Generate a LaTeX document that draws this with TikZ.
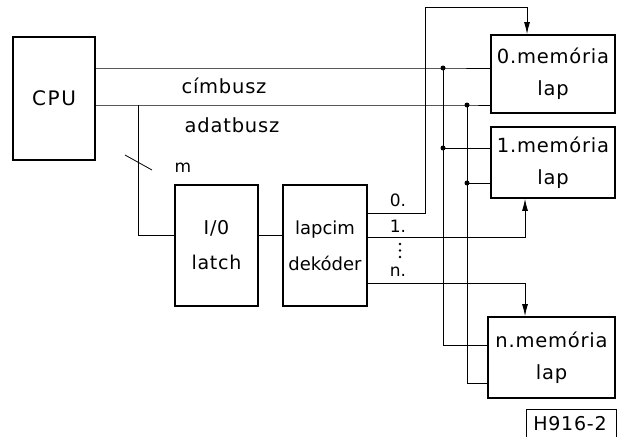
\documentclass[tikz,border=0pt]{standalone}
\usepackage{fontspec}
\setmainfont{DejaVu Sans}
\usetikzlibrary{arrows.meta}
\begin{document}
\begin{tikzpicture}[x=1pt,y=-1pt,
  blk/.style={draw,line width=1.8pt,inner sep=0pt,align=center},
  txt/.style={font=\fontsize{19.5}{32}\selectfont\addfontfeature{LetterSpace=4}},
  lbl/.style={inner sep=0pt,font=\fontsize{17}{20}\selectfont},
  wire/.style={line width=0.8pt},
  arr/.style={wire,-{Latex[length=12pt,width=6pt]}},
  dot/.style={fill,circle,inner sep=0pt,minimum size=5pt}]
\useasboundingbox (0,0) rectangle (620,436);
% blocks
\node[blk,txt,minimum width=82pt,minimum height=123pt,font=\fontsize{20}{32}\selectfont\addfontfeature{LetterSpace=8}] (cpu) at (54,98.5) {CPU};
\node[blk,minimum width=83pt,minimum height=121pt,font=\fontsize{19}{35}\selectfont\addfontfeature{LetterSpace=4}] (latch) at (216.5,245.5) {I/0\\latch};
\node[blk,minimum width=84pt,minimum height=121pt,font=\fontsize{18}{36}\selectfont] (dek) at (325,245.5) {lapcim\\dekóder};
\node[blk,txt,minimum width=124pt,minimum height=78pt] (mem0) at (553,74) {0.memória\\lap};
\node[blk,txt,minimum width=124pt,minimum height=71pt] (mem1) at (553,162.5) {1.memória\\lap};
\node[blk,txt,minimum width=127pt,minimum height=81pt] (memn) at (551.5,357.5) {n.memória\\lap};
% coordinates
\coordinate (j0) at (443,68);
\coordinate (j1) at (467,105);
\coordinate (d0) at (443,148);
\coordinate (d1) at (467,183);
\coordinate (k0) at (443,345);
\coordinate (k1) at (467,383);
\coordinate (t) at (138,105);
\coordinate (a0) at (425,213);
\coordinate (b0) at (527,7);
\coordinate (a1) at (525,237);
\coordinate (an) at (525,283);
\coordinate (s1) at (125,155);
\coordinate (s2) at (152,170);
% buses
\draw[wire] (cpu.east |- j0) -- (j0) -- (mem0.west |- j0);
\draw[wire] (cpu.east |- j1) -- (j1) -- (mem0.west |- j1);
\draw[wire] (j0) -- (k0) -- (k0 -| memn.west);
\draw[wire] (j1) -- (k1) -- (k1 -| memn.west);
\draw[wire] (d0) -- (d0 -| mem1.west);
\draw[wire] (d1) -- (d1 -| mem1.west);
\node[dot] at (j0) {};
\node[dot] at (j1) {};
\node[dot] at (d0) {};
\node[dot] at (d1) {};
% branch to latch
\draw[wire] (t) |- ([yshift=10pt]latch.west);
\draw[wire] (s1) -- (s2);
\draw[wire] ([yshift=10pt]latch.east) -- ([yshift=10pt]dek.west);
% decoder outputs
\draw[arr] (a0 -| dek.east) -- (a0) |- (b0) -- (b0 |- mem0.north);
\draw[arr] (a1 -| dek.east) -- (a1) -- (a1 |- mem1.south);
\draw[arr] (an -| dek.east) -- (an) -- (an |- memn.north);
% labels
\node[txt,inner sep=0pt] (lc) at (224,86) {címbusz};
\node[txt,inner sep=0pt] (la) at (232,125) {adatbusz};
\node[lbl] (lm) at (183,168) {m};
\node[lbl] (l0) at (398,200) {0.};
\node[lbl] (l1) at (398,226) {1.};
\fill (400,244) circle (1.3pt) (400,250.5) circle (1.3pt) (400,257) circle (1.3pt);
\node[lbl] (ln) at (398,272) {n.};
\draw[line width=1pt] (526,440) -- (526,409) -- (616,409) -- (616,440);
\node[lbl,font=\fontsize{19}{20}\selectfont\addfontfeature{LetterSpace=4}] (h) at (570,424) {H916-2};
\end{tikzpicture}
\end{document}
